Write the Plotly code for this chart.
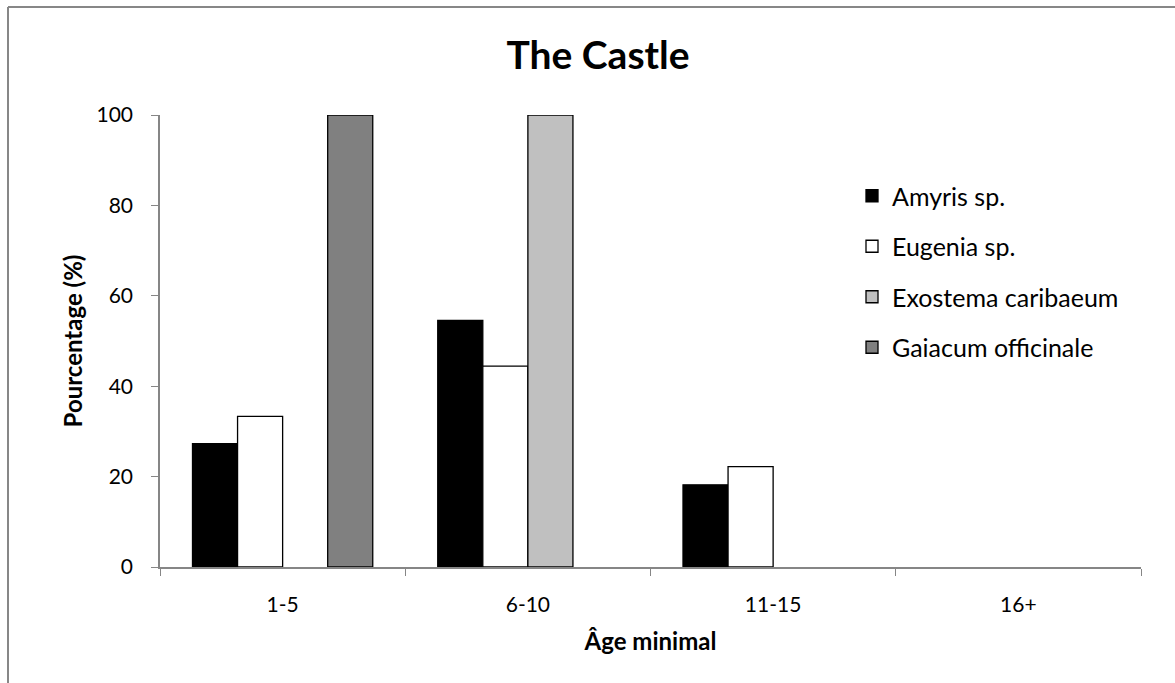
import plotly.graph_objects as go

categories = ["1-5", "6-10", "11-15", "16+"]
series_names = ["Amyris sp.", "Eugenia sp.", "Exostema caribaeum", "Gaiacum officinale"]
amyris = [27.27, 54.55, 18.18, 0]
eugenia = [33.33, 44.44, 22.22, 0]
exostema = [0, 100, 0, 0]
gaiacum = [100, 0, 0, 0]
fill_colors = ["#000000", "#FFFFFF", "#C0C0C0", "#808080"]
y_ticks = [0, 20, 40, 60, 80, 100]

FONT = "Lato, Calibri, Carlito, sans-serif"
W, H = 1175, 683
L, R, T, B = 160, 34, 115, 116
pw, ph = W - L - R, H - T - B

fig = go.Figure()
for i, (name, vals) in enumerate(zip(series_names, [amyris, eugenia, exostema, gaiacum])):
    fig.add_trace(go.Bar(
        x=categories,
        # empty categories leave their slot blank instead of a flat outlined bar
        y=[v if v else None for v in vals],
        name=name, legendgroup=f"g{i}",
        marker=dict(color=fill_colors[i], line=dict(color="#000000", width=1.3)),
    ))

def px_x(p):
    return (p - L) / pw

def px_y(p):
    return (H - B - p) / ph

# outer chart-area frame (left and top edges visible)
frame = dict(color="#878787", width=2)
fig.add_shape(type="line", xref="paper", yref="paper",
              x0=px_x(8), x1=px_x(8), y0=px_y(7), y1=px_y(H + 5), line=frame)
fig.add_shape(type="line", xref="paper", yref="paper",
              x0=px_x(8), x1=px_x(W + 5), y0=px_y(7), y1=px_y(7), line=frame)

fig.update_layout(
    width=W, height=H,
    margin=dict(l=L, r=R, t=T, b=B),
    paper_bgcolor="white", plot_bgcolor="white",
    font=dict(family=FONT, size=21, color="#000000"),
    barmode="group", bargap=0.265, bargroupgap=0,
    title=dict(text="<b>The Castle</b>", font=dict(size=39, family=FONT),
               x=598 / W, xanchor="center", xref="container",
               y=1 - 55 / H, yanchor="middle", yref="container"),
    legend=dict(x=px_x(852), y=px_y(173), xanchor="left", yanchor="top",
                font=dict(size=25), tracegroupgap=15, bgcolor="rgba(0,0,0,0)"),
    showlegend=True,
    xaxis=dict(type="category", range=[-0.5, 3.5], tickson="boundaries",
               ticks="outside", ticklen=7, tickcolor="#868686",
               showline=True, linecolor="#868686", linewidth=1.5,
               showgrid=False, zeroline=False, ticklabelstandoff=18,
               title=dict(text="<b>Âge minimal</b>", font=dict(size=24), standoff=18)),
    yaxis=dict(range=[0, 100], tickvals=y_ticks, ticks="outside", ticklen=7,
               tickcolor="#868686", showline=True, linecolor="#868686", linewidth=1.5,
               showgrid=False, zeroline=False, ticklabelstandoff=14,
               title=dict(text="<b>Pourcentage (%)</b>", font=dict(size=24), standoff=7)),
)

fig.write_html("out.html")
